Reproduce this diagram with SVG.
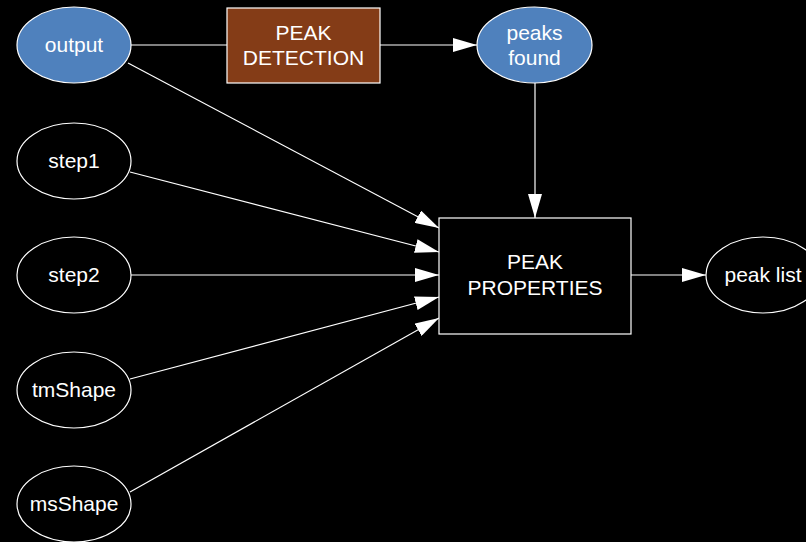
<svg xmlns="http://www.w3.org/2000/svg" width="806" height="542" viewBox="0 0 806 542">
<style>
text{font-family:"Liberation Sans",Arial,sans-serif;font-size:21px;fill:#fff;text-anchor:middle}
.blue{fill:#4f81bd;stroke:#fff;stroke-width:1.2}
.dark{fill:#000;stroke:#fff;stroke-width:1.2}
.edge{stroke:#fff;stroke-width:1.2;fill:none}
</style>
<defs>
<marker id="ah" markerWidth="24" markerHeight="14" refX="24" refY="7" orient="auto" markerUnits="userSpaceOnUse">
<path d="M0,0 L24,7 L0,14 z" fill="#fff"/>
</marker>
</defs>
<rect width="806" height="542" fill="#000"/>
<g id="connectors">
<line class="edge" x1="131" y1="45" x2="227" y2="45"/>
<line class="edge" x1="380" y1="45" x2="477" y2="45" marker-end="url(#ah)"/>
<line class="edge" x1="535" y1="83" x2="535" y2="218" marker-end="url(#ah)"/>
<line class="edge" x1="631" y1="275" x2="706" y2="275" marker-end="url(#ah)"/>
<line class="edge" x1="128" y1="63" x2="439" y2="228" marker-end="url(#ah)"/>
<line class="edge" x1="130" y1="172" x2="439" y2="252" marker-end="url(#ah)"/>
<line class="edge" x1="131" y1="275" x2="439" y2="275" marker-end="url(#ah)"/>
<line class="edge" x1="130" y1="379" x2="439" y2="297" marker-end="url(#ah)"/>
<line class="edge" x1="130" y1="492" x2="439" y2="318" marker-end="url(#ah)"/>
</g>
<g id="output"><ellipse class="blue" cx="74" cy="45" rx="57" ry="38"/><text x="74" y="52">output</text></g>
<g id="peak-detection"><rect x="227" y="8" width="153" height="75" fill="#843c17" stroke="#fff" stroke-width="1.2"/><text x="303.5" y="40">PEAK</text><text x="303.5" y="65">DETECTION</text></g>
<g id="peaks-found"><ellipse class="blue" cx="534.5" cy="45" rx="57.5" ry="38"/><text x="534.5" y="40">peaks</text><text x="534.5" y="65">found</text></g>
<g id="step1"><ellipse class="dark" cx="74" cy="161" rx="57" ry="38"/><text x="74" y="168">step1</text></g>
<g id="step2"><ellipse class="dark" cx="74" cy="275" rx="57" ry="38"/><text x="74" y="282">step2</text></g>
<g id="tmShape"><ellipse class="dark" cx="74" cy="390" rx="57" ry="38"/><text x="74" y="397">tmShape</text></g>
<g id="msShape"><ellipse class="dark" cx="74" cy="504" rx="57" ry="38"/><text x="74" y="511">msShape</text></g>
<g id="peak-properties"><rect class="dark" x="439" y="218" width="192" height="116"/><text x="535" y="269">PEAK</text><text x="535" y="295">PROPERTIES</text></g>
<g id="peak-list"><ellipse class="dark" cx="763" cy="275" rx="57" ry="38"/><text x="763" y="282">peak list</text></g>
</svg>
